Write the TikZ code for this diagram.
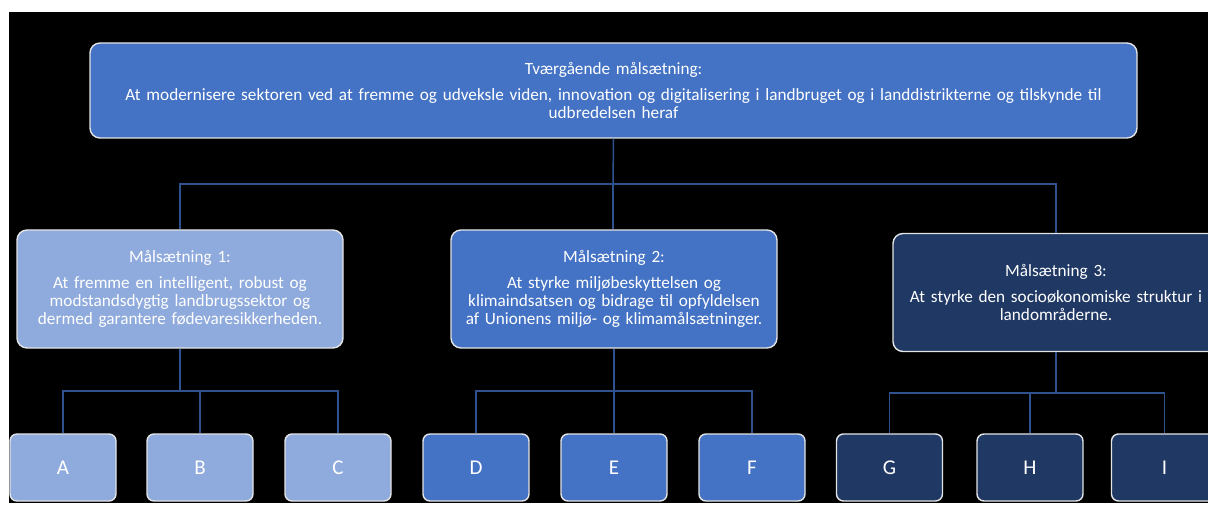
\documentclass[tikz,border=0pt]{standalone}
\usepackage{fontspec}
\setmainfont{Carlito}
\definecolor{cmid}{HTML}{4472C4}
\definecolor{clight}{HTML}{8FAADC}
\definecolor{cdark}{HTML}{203864}
\definecolor{cline}{HTML}{2F528F}
\definecolor{cborder}{HTML}{E4E4E4}
\tikzset{
  bigbox/.style={draw=cborder, line width=1.4pt, rounded corners=10pt, inner sep=0pt,
    minimum width=326pt, minimum height=118pt, text width=320pt, align=center,
    text=white, font=\fontsize{17.2}{17.8}\selectfont},
  leafbox/.style={draw=cborder, line width=1.4pt, rounded corners=7pt, inner sep=0pt,
    minimum width=106pt, minimum height=67pt, text=white, font=\fontsize{21}{24}\selectfont},
  conn/.style={draw=cline, line width=1.5pt}
}
\begin{document}
\begin{tikzpicture}[x=1pt,y=-1pt]
\useasboundingbox (0,0) rectangle (1208,505);
\clip (0,0) rectangle (1208,505);
\fill[white] (0,0) rectangle (1208,505);
\fill[black] (9,12) rectangle (1208,503);

% connectors (drawn first, boxes cover the ends)
\coordinate (bus0) at (613,184);
\coordinate (bus1) at (180,391);
\coordinate (bus2) at (614,391);
\coordinate (bus3) at (1056,393);

% top node
\node[draw=cborder, line width=1.4pt, rounded corners=10pt, inner sep=0pt, fill=cmid,
  minimum width=1047pt, minimum height=95pt, text width=1040pt, align=center, text=white,
  font=\fontsize{17.2}{17.8}\selectfont] (top) at (613.5,90.5)
  {Tværgående målsætning:\\[8.5pt]
   At modernisere sektoren ved at fremme og udveksle viden, innovation og digitalisering i landbruget og i landdistrikterne og tilskynde til\\
   udbredelsen heraf};

% level 1
\node[bigbox, fill=clight] (m1) at (180,289)
  {Målsætning 1:\\[8.5pt]
   At fremme en intelligent, robust og\\
   modstandsdygtig landbrugssektor og\\
   dermed garantere fødevaresikkerheden.};
\node[bigbox, fill=cmid] (m2) at (614,289)
  {Målsætning 2:\\[8.5pt]
   At styrke miljøbeskyttelsen og\\
   klimaindsatsen og bidrage til opfyldelsen\\
   af Unionens miljø- og klimamålsætninger.};
\node[bigbox, fill=cdark] (m3) at (1056,292.5)
  {Målsætning 3:\\[8.5pt]
   At styrke den socioøkonomiske struktur i\\
   landområderne.};

% leaves
\node[leafbox, fill=clight] (A) at (63,467.5) {A};
\node[leafbox, fill=clight] (B) at (200,467.5) {B};
\node[leafbox, fill=clight] (C) at (338,467.5) {C};
\node[leafbox, fill=cmid] (D) at (476,467.5) {D};
\node[leafbox, fill=cmid] (E) at (614,467.5) {E};
\node[leafbox, fill=cmid] (F) at (752,467.5) {F};
\node[leafbox, fill=cdark] (G) at (889.5,467.5) {G};
\node[leafbox, fill=cdark] (H) at (1030,467.5) {H};
\node[leafbox, fill=cdark] (I) at (1164.5,467.5) {I};

\path[conn] (top.south) -- (bus0);
\path[conn] (bus0) -| (m1.north);
\path[conn] (bus0) -| (m3.north);
\path[conn] (bus0) -- (bus0 |- m2.north);

\path[conn] (m1.south) -- (bus1);
\path[conn] (bus1) -| (A.north);
\path[conn] (bus1) -| (B.north);
\path[conn] (bus1) -| (C.north);

\path[conn] (m2.south) -- (bus2);
\path[conn] (bus2) -| (D.north);
\path[conn] (bus2) -| (E.north);
\path[conn] (bus2) -| (F.north);

\path[conn] (m3.south) -- (bus3);
\path[conn] (bus3) -| (G.north);
\path[conn] (bus3) -| (H.north);
\path[conn] (bus3) -| (I.north);
\end{tikzpicture}
\end{document}
